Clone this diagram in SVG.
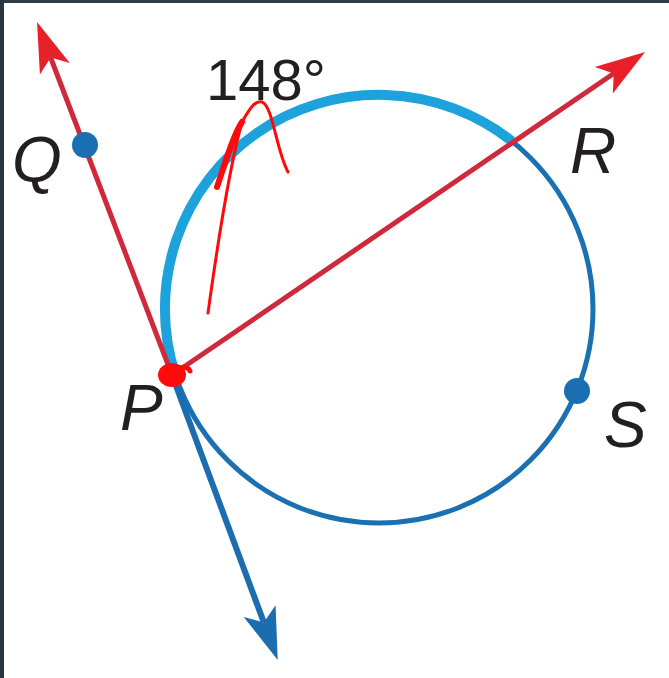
<svg xmlns="http://www.w3.org/2000/svg" width="669" height="678" viewBox="0 0 669 678">
<style>
.lbl{font-family:"Liberation Sans",Arial,sans-serif;font-style:italic;font-size:64px;fill:#231f20}
.deg{font-family:"Liberation Sans",Arial,sans-serif;font-size:58px;fill:#231f20}
.red{stroke:#cf2a3c;stroke-width:5;fill:none}
.blue{stroke:#1c6db0;stroke-width:6;fill:none}
.dot{fill:#1a6fb3}
.ink{stroke:#ff0a0a;fill:none;stroke-linecap:round;stroke-linejoin:round}
</style>
<defs>
<marker id="arR" markerUnits="userSpaceOnUse" markerWidth="60" markerHeight="40" refX="12" refY="18" orient="auto">
<path d="M0,2 L50,18 L0,34 L12,18 Z" fill="#e8202a"/>
</marker>
<marker id="arB" markerUnits="userSpaceOnUse" markerWidth="60" markerHeight="40" refX="12" refY="18" orient="auto">
<path d="M0,1 L52,18 L0,35 L12,18 Z" fill="#1c6db0"/>
</marker>
</defs>
<rect width="669" height="678" fill="#ffffff"/>
<rect x="0" y="0" width="669" height="3" fill="#2f3b46"/>
<rect x="0" y="0" width="4" height="678" fill="#2a3540"/>
<g id="circle">
<circle cx="379" cy="309" r="214" fill="none" stroke="#1a70b0" stroke-width="5"/>
<path d="M175.1,374.1 A214,214 0 0 1 511.9,141.2" fill="none" stroke="#1ea2dc" stroke-width="10"/>
</g>
<g id="connectors">
<line class="red" x1="172" y1="375" x2="50.6" y2="57.5" marker-end="url(#arR)"/>
<line class="red" x1="172" y1="375" x2="613.7" y2="73.5" marker-end="url(#arR)"/>
<line class="blue" x1="172" y1="375" x2="263.8" y2="622.4" marker-end="url(#arB)"/>
</g>
<g id="Q">
<circle class="dot" cx="85" cy="145" r="13"/>
<text class="lbl" x="12" y="182">Q</text>
</g>
<g id="R">
<text class="lbl" x="570" y="173">R</text>
</g>
<g id="S">
<circle class="dot" cx="577" cy="391" r="13"/>
<text class="lbl" x="604" y="447">S</text>
</g>
<g id="P">
<text class="lbl" x="120" y="430">P</text>
</g>
<g id="arc-label">
<text class="deg" x="206" y="100">148°</text>
</g>
<g id="annotations">
<ellipse cx="172" cy="375" rx="14" ry="12" fill="#ff0a0a"/>
<path class="ink" stroke-width="5" d="M180,368 C185,366 189,368 190,371"/>
<path class="ink" stroke-width="3" d="M208,313 C216,255 230,165 242,122"/>
<path class="ink" stroke-width="6" d="M217,187 C226,160 234,134 242,122"/>
<path class="ink" stroke-width="3" d="M242,122 C248,112 254,100 262,102 C273,106 276,150 288,172"/>
</g>
</svg>
